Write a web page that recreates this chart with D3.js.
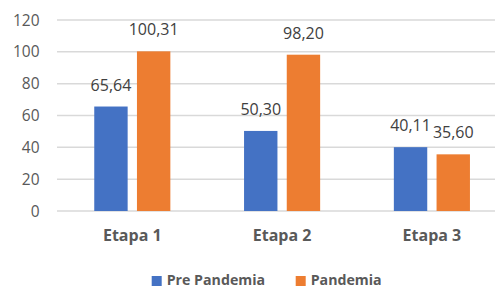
<!DOCTYPE html>
<html><head><meta charset="utf-8">
<script src="https://cdn.jsdelivr.net/npm/d3@7"></script>
<style>
html,body{margin:0;padding:0;background:#fff;}
svg{display:block;font-family:"Open Sans",sans-serif;}
</style></head>
<body><svg id="c" width="495" height="289"></svg>
<script>
const categories = ["Etapa 1", "Etapa 2", "Etapa 3"];
const seriesNames = ["Pre Pandemia", "Pandemia"];
const prePandemia = [65.64, 50.30, 40.11];
const pandemia = [100.31, 98.20, 35.60];
const yTicks = [0, 20, 40, 60, 80, 100, 120];
const colors = ["#4472C4", "#ED7D31"];

const fmt = v => v.toFixed(2).replace(".", ",");
const svg = d3.select("#c");
const y = d3.scaleLinear().domain([0, 120]).range([211, 20]);
const x0 = d3.scaleBand().domain(categories).range([57.4, 506.8]).paddingInner(0.492).paddingOuter(0.246);
const x1 = d3.scaleBand().domain(seriesNames).range([0, x0.bandwidth()]).paddingInner(0.218);
const values = [prePandemia, pandemia];

// gridlines
svg.append("g").selectAll("line").data(yTicks).join("line")
  .attr("x1", 57).attr("x2", 495)
  .attr("y1", d => y(d)).attr("y2", d => y(d))
  .attr("stroke", "#d9d9d9").attr("stroke-width", 1.5);

// y tick labels
svg.append("g").selectAll("text").data(yTicks).join("text")
  .attr("x", 39.5).attr("y", d => y(d) + 5.5)
  .attr("text-anchor", "end").attr("font-size", 15.5).attr("fill", "#595959")
  .text(d => d);

// bars
const data = [];
categories.forEach((c, i) => seriesNames.forEach((s, j) => data.push({c, s, j, v: values[j][i]})));
svg.append("g").selectAll("rect").data(data).join("rect")
  .attr("x", d => x0(d.c) + x1(d.s))
  .attr("width", x1.bandwidth())
  .attr("y", d => y(d.v))
  .attr("height", d => y(0) - y(d.v))
  .attr("fill", d => colors[d.j]);

// value labels
svg.append("g").selectAll("text").data(data).join("text")
  .attr("x", d => x0(d.c) + x1(d.s) + x1.bandwidth() / 2)
  .attr("y", d => y(d.v) - 16)
  .attr("text-anchor", "middle").attr("font-size", 16).attr("fill", "#404040")
  .text(d => fmt(d.v));

// category labels
svg.append("g").selectAll("text").data(categories).join("text")
  .attr("x", d => x0(d) + x0.bandwidth() / 2).attr("y", 241)
  .attr("text-anchor", "middle").attr("font-size", 16).attr("font-weight", "bold").attr("fill", "#595959")
  .text(d => d);

// legend
const legX = [151.7, 295.7];
const lg = svg.append("g").selectAll("g").data(seriesNames).join("g")
  .attr("transform", (d, i) => `translate(${legX[i]},276)`);
lg.append("rect").attr("width", 10).attr("height", 10).attr("fill", (d, i) => colors[i]);
lg.append("text").attr("x", 15).attr("y", 8.8).attr("font-size", 14.2).attr("font-weight", "bold").attr("fill", "#595959").text(d => d);
</script></body></html>
